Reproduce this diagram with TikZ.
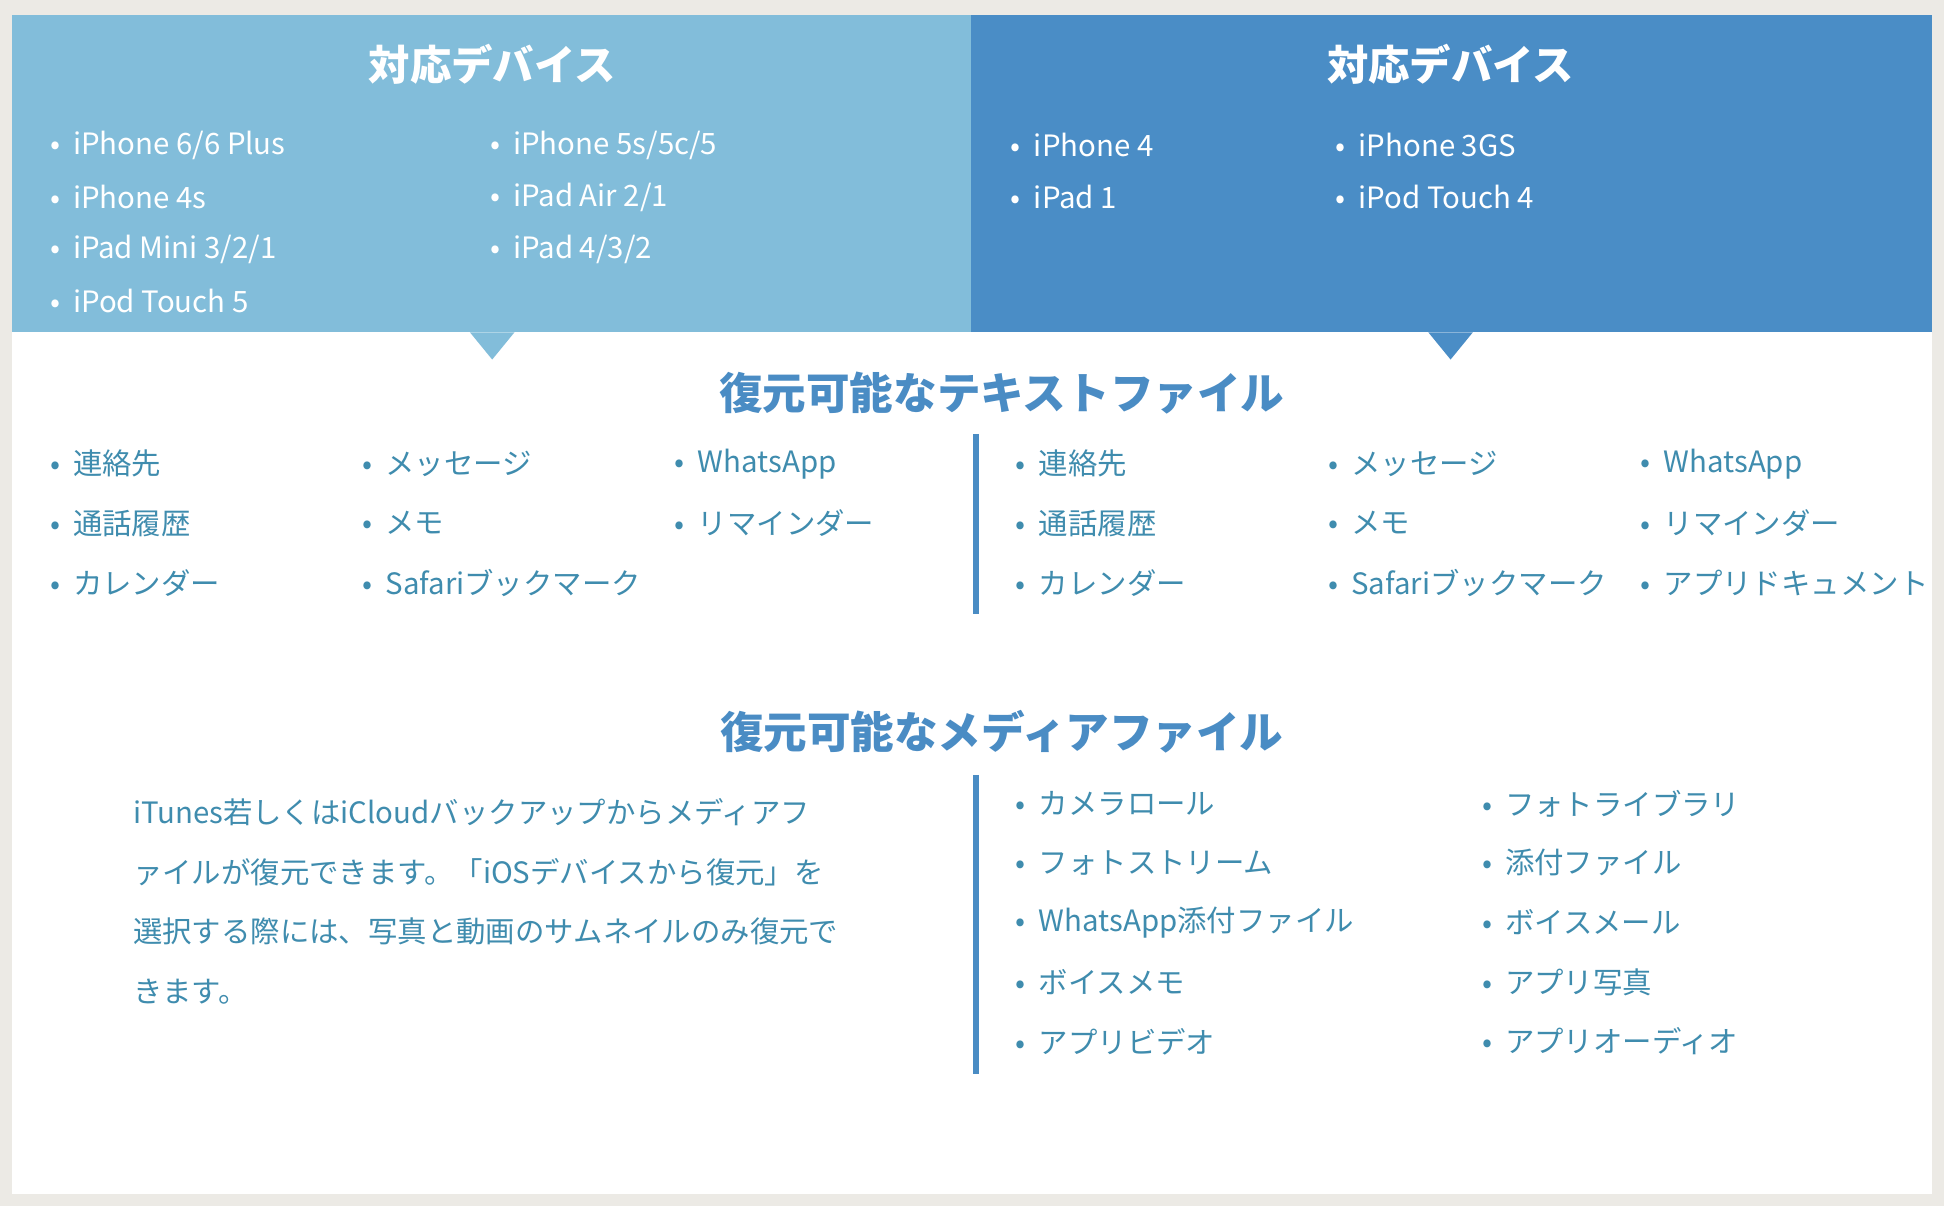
\documentclass[tikz,border=0pt]{standalone}
\usepackage{fontspec}
\setmainfont{Noto Sans CJK JP}
\usetikzlibrary{positioning}
\definecolor{hdlight}{HTML}{82BDDA}
\definecolor{hddark}{HTML}{4A8DC6}
\definecolor{ttlblue}{HTML}{4A8CC4}
\definecolor{itemtxt}{HTML}{3F8CAE}
\definecolor{paper}{HTML}{ECEAE5}
\begin{document}
\begin{tikzpicture}[x=0.02cm, y=-0.02cm,
	hdtitle/.style={text=white, font=\fontsize{19}{22}\selectfont\bfseries},
	hditem/.style={anchor=west, inner sep=0pt, text=white, font=\fontsize{13.5}{16}\selectfont},
	sectitle/.style={text=ttlblue, font=\fontsize{20}{24}\selectfont\bfseries},
	item/.style={anchor=west, inner sep=0pt, text=itemtxt, font=\fontsize{13.5}{16}\selectfont},
	divider/.style={ttlblue, line width=2.8pt}]
		\fill[paper] (0,0) rectangle (1568,973);
		\useasboundingbox (0,0) rectangle (1568,973);
		\fill[white] (10,12) rectangle (1558,963);
		% headers
		\fill[hdlight] (10,12) rectangle (783,268);
		\fill[hddark] (783,12) rectangle (1558,268);
		\fill[hdlight] (379,268) -- (397,290) -- (415,268) -- cycle;
		\fill[hddark] (1152,268) -- (1170,290) -- (1188,268) -- cycle;
		\node[hdtitle] (hl) at (397,52) {対応デバイス};
		\node[hdtitle] (hr) at (1170,52) {対応デバイス};
		\foreach \t [count=\i] in {iPhone 6/6 Plus, iPhone 4s, iPad Mini 3/2/1, iPod Touch 5}
			\node[hditem] (la\i) at (40,{75+42*\i}) {•\hspace{6pt}\t};
		\foreach \t [count=\i] in {iPhone 5s/5c/5, iPad Air 2/1, iPad 4/3/2}
			\node[hditem] (lb\i) at (395,{75+42*\i}) {•\hspace{6pt}\t};
		\foreach \t [count=\i] in {iPhone 4, iPad 1}
			\node[hditem] (ra\i) at (815,{75+42*\i}) {•\hspace{6pt}\t};
		\foreach \t [count=\i] in {iPhone 3GS, iPod Touch 4}
			\node[hditem] (rb\i) at (1077,{75+42*\i}) {•\hspace{6pt}\t};
		% text files
		\node[sectitle] (txt) at (808,317) {復元可能なテキストファイル};
		\coordinate (d1a) at (787,350);
		\coordinate (d1b) at (787,495);
		\draw[divider] (d1a) -- (d1b);
		\foreach \t [count=\i] in {連絡先, 通話履歴, カレンダー}{
			\node[item] (ta\i) at (40,{326+48*\i}) {•\hspace{6pt}\t};
			\node[item] (td\i) at (819,{326+48*\i}) {•\hspace{6pt}\t};}
		\foreach \t [count=\i] in {メッセージ, メモ, Safariブックマーク}{
			\node[item] (tb\i) at (292,{326+48*\i}) {•\hspace{6pt}\t};
			\node[item] (te\i) at (1071,{326+48*\i}) {•\hspace{6pt}\t};}
		\foreach \t [count=\i] in {WhatsApp, リマインダー}
			\node[item] (tc\i) at (544,{326+48*\i}) {•\hspace{6pt}\t};
		\foreach \t [count=\i] in {WhatsApp, リマインダー, アプリドキュメント}
			\node[item] (tf\i) at (1323,{326+48*\i}) {•\hspace{6pt}\t};
		% media files
		\node[sectitle] (med) at (808,590) {復元可能なメディアファイル};
		\node[item, anchor=north west, align=left, font=\fontsize{13.5}{27.3}\selectfont] (para) at (107,644)
			{iTunes若しくはiCloudバックアップからメディアフ\\ァイルが復元できます。「iOSデバイスから復元」を\\選択する際には、写真と動画のサムネイルのみ復元で\\きます。};
		\coordinate (d2a) at (787,625);
		\coordinate (d2b) at (787,866);
		\draw[divider] (d2a) -- (d2b);
		\foreach \t [count=\i] in {カメラロール, フォトストリーム, WhatsApp添付ファイル, ボイスメモ, アプリビデオ}
			\node[item] (ma\i) at (819,{600+48*\i}) {•\hspace{6pt}\t};
		\foreach \t [count=\i] in {フォトライブラリ, 添付ファイル, ボイスメール, アプリ写真, アプリオーディオ}
			\node[item] (mb\i) at (1195,{600+48*\i}) {•\hspace{6pt}\t};
\end{tikzpicture}
\end{document}
